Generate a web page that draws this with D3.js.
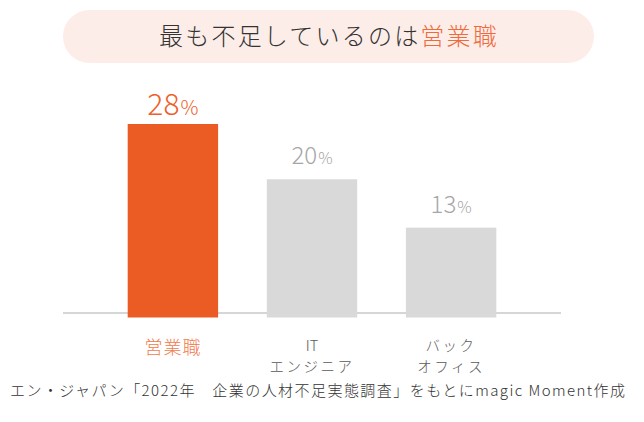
<!DOCTYPE html>
<html>
<head>
<meta charset="utf-8">
<script src="https://cdn.jsdelivr.net/npm/d3@7"></script>
<style>
  html, body { margin: 0; padding: 0; background: #fff; }
  svg { display: block; font-family: "Noto Sans CJK JP", "Noto Sans", sans-serif; font-weight: 300; }
</style>
</head>
<body>
<div id="chart"></div>
<script>
// chart data
const categories = ["営業職", "IT\nエンジニア", "バック\nオフィス"];
const values = [28, 20, 13];
const highlight = [true, false, false];
const titleParts = ["最も不足しているのは", "営業職"];
const sourceNote = "エン・ジャパン「2022年　企業の人材不足実態調査」をもとにmagic Moment作成";

const W = 644, H = 422;
const orange = "#eb5c24";
const grey = "#d9d9d9";

const svg = d3.select("#chart")
  .append("svg")
  .attr("width", W)
  .attr("height", H);

// title pill
const pill = svg.append("g");
pill.append("rect")
  .attr("x", 63)
  .attr("y", 10)
  .attr("width", 531)
  .attr("height", 53)
  .attr("rx", 26.5)
  .attr("fill", "#fdede8");

const title = pill.append("text")
  .attr("x", 329)
  .attr("y", 45)
  .attr("text-anchor", "middle")
  .style("font-size", "24px")
  .style("letter-spacing", "2.2px");
title.append("tspan").attr("fill", "#333").text(titleParts[0]);
title.append("tspan").attr("fill", "#ee6a3c").text(titleParts[1]);

// scales
const x = d3.scaleBand()
  .domain(categories)
  .range([63, 561])
  .paddingInner(0.35)
  .paddingOuter(0.465);

const y = d3.scaleLinear()
  .domain([0, 28])
  .range([317.5, 124]);

// baseline
svg.append("line")
  .attr("x1", x.range()[0])
  .attr("x2", x.range()[1])
  .attr("y1", 313)
  .attr("y2", 313)
  .attr("stroke", "#d6d6d6")
  .attr("stroke-width", 2);

const data = categories.map((c, i) => ({ cat: c, value: values[i], hi: highlight[i] }));

// bars
svg.selectAll(".bar")
  .data(data)
  .enter()
  .append("rect")
  .attr("class", "bar")
  .attr("x", d => x(d.cat))
  .attr("y", d => y(d.value))
  .attr("width", x.bandwidth())
  .attr("height", d => y(0) - y(d.value))
  .attr("fill", d => d.hi ? orange : grey);

// value labels
const vl = svg.selectAll(".val")
  .data(data)
  .enter()
  .append("text")
  .attr("class", "val")
  .attr("x", d => x(d.cat) + x.bandwidth() / 2)
  .attr("y", d => y(d.value) - (d.hi ? 9 : 15))
  .attr("text-anchor", "middle")
  .attr("fill", d => d.hi ? "#ee5f2b" : "#a6a6a6")
  .style("font-size", d => d.hi ? "30px" : "24px");
vl.append("tspan").text(d => d.value);
vl.append("tspan")
  .style("font-size", d => d.hi ? "20px" : "16px")
  .attr("dx", 1)
  .text("%");

// category labels, one text per line
data.forEach(d => {
  d.cat.split("\n").forEach((ln, i) => {
    const latin = /^[A-Za-z]+$/.test(ln);
    svg.append("text")
      .attr("class", "cat")
      .attr("x", x(d.cat) + x.bandwidth() / 2)
      .attr("y", (d.hi ? 354 : 351) + i * 21)
      .attr("text-anchor", "middle")
      .attr("fill", d.hi ? "#ef7a4c" : "#595959")
      .style("font-size", d.hi ? "18px" : "14.5px")
      .style("letter-spacing", latin ? "0px" : (d.hi ? "1px" : "2.5px"))
      .text(ln);
  });
});

// source note
svg.append("text")
  .attr("x", 10)
  .attr("y", 396)
  .attr("textLength", 615)
  .attr("lengthAdjust", "spacing")
  .attr("fill", "#333")
  .style("font-size", "15px")
  .text(sourceNote);
</script>
</body>
</html>
